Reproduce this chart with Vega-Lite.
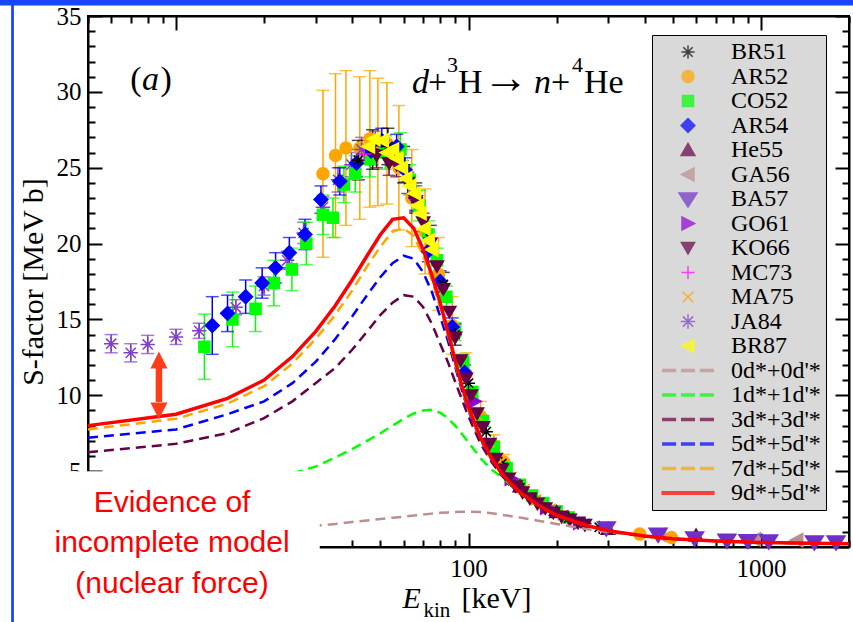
{
  "$schema": "https://vega.github.io/schema/vega-lite/v6.json",
  "width": 761,
  "height": 531,
  "autosize": {"type": "none"},
  "padding": {"left": 88, "top": 16, "right": 4, "bottom": 75},
  "background": "white",
  "config": {
    "view": {"stroke": "black", "strokeWidth": 2},
    "axis": {"grid": false, "domainColor": "black", "domainWidth": 2, "tickColor": "black", "tickWidth": 2, "labelFont": "Liberation Serif", "labelFontSize": 25, "labelColor": "black", "titleFont": "Liberation Serif", "titleFontSize": 30, "titleFontWeight": "normal", "titleColor": "black"}
  },
  "datasets": {
    "pts": [
      {"s":"AR52","E":31.8,"S":24.6,"lo":19.1,"hi":30.1},
      {"s":"AR52","E":35.1,"S":25.8,"lo":20.4,"hi":31.2},
      {"s":"AR52","E":38.1,"S":26.3,"lo":21.2,"hi":31.4},
      {"s":"AR52","E":42.5,"S":26.3,"lo":21.6,"hi":31.0},
      {"s":"AR52","E":46.0,"S":26.9,"lo":22.4,"hi":31.4},
      {"s":"AR52","E":49.0,"S":26.7,"lo":22.5,"hi":30.9},
      {"s":"AR52","E":52.6,"S":26.6,"lo":22.6,"hi":30.6},
      {"s":"AR52","E":57.8,"S":25.0,"lo":20.9,"hi":29.1},
      {"s":"AR52","E":64,"S":23.0,"lo":19.8,"hi":26.2},
      {"s":"AR52","E":71,"S":20.8,"lo":18.0,"hi":23.6},
      {"s":"AR52","E":79,"S":18.0,"lo":15.6,"hi":20.4},
      {"s":"AR52","E":88,"S":14.6,"lo":12.7,"hi":16.5},
      {"s":"AR52","E":98,"S":11.4,"lo":10.0,"hi":12.8},
      {"s":"AR52","E":110,"S":8.6,"lo":7.6,"hi":9.6},
      {"s":"AR52","E":122,"S":6.7,"lo":6.0,"hi":7.4},
      {"s":"AR52","E":132,"S":5.6,"lo":5.1,"hi":6.1},
      {"s":"AR52","E":385,"S":0.85,"lo":null,"hi":null},
      {"s":"AR52","E":494,"S":0.62,"lo":null,"hi":null},
      {"s":"JA84","E":6.0,"S":13.4,"lo":12.8,"hi":14.0},
      {"s":"JA84","E":7.0,"S":12.8,"lo":12.2,"hi":13.4},
      {"s":"JA84","E":8.0,"S":13.35,"lo":12.75,"hi":13.95},
      {"s":"JA84","E":10.0,"S":13.85,"lo":13.35,"hi":14.35},
      {"s":"JA84","E":12.0,"S":14.25,"lo":13.75,"hi":14.75},
      {"s":"JA84","E":16.0,"S":15.8,"lo":15.3,"hi":16.3},
      {"s":"JA84","E":20.0,"S":17.2,"lo":16.6,"hi":17.8},
      {"s":"JA84","E":24.0,"S":18.9,"lo":18.3,"hi":19.5},
      {"s":"JA84","E":27.3,"S":20.7,"lo":20.0,"hi":21.4},
      {"s":"JA84","E":31.8,"S":22.4,"lo":21.7,"hi":23.1},
      {"s":"JA84","E":35.8,"S":24.2,"lo":23.4,"hi":25.0},
      {"s":"JA84","E":39.8,"S":25.2,"lo":24.4,"hi":26.0},
      {"s":"JA84","E":43.1,"S":26.2,"lo":25.4,"hi":27.0},
      {"s":"JA84","E":48,"S":26.6,"lo":25.8,"hi":27.4},
      {"s":"CO52","E":12.5,"S":13.2,"lo":11.05,"hi":15.35},
      {"s":"CO52","E":15.6,"S":15.0,"lo":13.2,"hi":16.8},
      {"s":"CO52","E":18.7,"S":15.7,"lo":14.2,"hi":17.2},
      {"s":"CO52","E":21.6,"S":17.4,"lo":15.9,"hi":18.9},
      {"s":"CO52","E":24.9,"S":18.3,"lo":16.9,"hi":19.7},
      {"s":"CO52","E":27.9,"S":20.0,"lo":18.6,"hi":21.4},
      {"s":"CO52","E":31.8,"S":21.9,"lo":20.6,"hi":23.2},
      {"s":"CO52","E":34.4,"S":21.7,"lo":20.4,"hi":23.0},
      {"s":"CO52","E":37.5,"S":23.9,"lo":22.7,"hi":25.1},
      {"s":"CO52","E":41,"S":24.6,"lo":23.4,"hi":25.8},
      {"s":"CO52","E":46.0,"S":25.6,"lo":24.4,"hi":26.8},
      {"s":"CO52","E":52,"S":26.0,"lo":24.9,"hi":27.1},
      {"s":"CO52","E":58.5,"S":26.2,"lo":25.1,"hi":27.3},
      {"s":"CO52","E":63,"S":24.2,"lo":23.2,"hi":25.2},
      {"s":"CO52","E":68,"S":22.5,"lo":21.5,"hi":23.5},
      {"s":"CO52","E":73,"S":20.6,"lo":19.7,"hi":21.5},
      {"s":"CO52","E":78,"S":18.9,"lo":18.1,"hi":19.7},
      {"s":"CO52","E":84,"S":16.5,"lo":15.8,"hi":17.2},
      {"s":"CO52","E":90,"S":14.2,"lo":13.6,"hi":14.8},
      {"s":"CO52","E":96,"S":12.2,"lo":11.7,"hi":12.7},
      {"s":"CO52","E":103,"S":10.2,"lo":9.8,"hi":10.6},
      {"s":"CO52","E":112,"S":8.3,"lo":7.95,"hi":8.65},
      {"s":"CO52","E":122,"S":6.6,"lo":6.3,"hi":6.9},
      {"s":"CO52","E":135,"S":5.2,"lo":null,"hi":null},
      {"s":"CO52","E":150,"S":4.1,"lo":null,"hi":null},
      {"s":"CO52","E":165,"S":3.4,"lo":null,"hi":null},
      {"s":"CO52","E":180,"S":2.9,"lo":null,"hi":null},
      {"s":"CO52","E":200,"S":2.35,"lo":null,"hi":null},
      {"s":"CO52","E":220,"S":1.95,"lo":null,"hi":null},
      {"s":"AR54","E":13.3,"S":14.6,"lo":12.7,"hi":16.5},
      {"s":"AR54","E":15.0,"S":15.4,"lo":14.2,"hi":16.6},
      {"s":"AR54","E":17.3,"S":16.5,"lo":15.4,"hi":17.6},
      {"s":"AR54","E":19.7,"S":17.4,"lo":16.4,"hi":18.4},
      {"s":"AR54","E":21.9,"S":18.4,"lo":17.4,"hi":19.4},
      {"s":"AR54","E":24.4,"S":19.4,"lo":18.4,"hi":20.4},
      {"s":"AR54","E":27.6,"S":20.6,"lo":19.6,"hi":21.6},
      {"s":"AR54","E":31.3,"S":22.9,"lo":22.0,"hi":23.8},
      {"s":"AR54","E":36.3,"S":24.1,"lo":23.2,"hi":25.0},
      {"s":"AR54","E":41.4,"S":25.3,"lo":24.4,"hi":26.2},
      {"s":"AR54","E":46.4,"S":26.1,"lo":25.2,"hi":27.0},
      {"s":"AR54","E":50.5,"S":26.8,"lo":26.0,"hi":27.6},
      {"s":"AR54","E":56.8,"S":26.4,"lo":25.6,"hi":27.2},
      {"s":"AR54","E":60.7,"S":24.85,"lo":24.05,"hi":25.65},
      {"s":"AR54","E":66,"S":23.0,"lo":22.2,"hi":23.8},
      {"s":"AR54","E":72.8,"S":19.5,"lo":18.8,"hi":20.2},
      {"s":"AR54","E":80,"S":17.5,"lo":16.8,"hi":18.2},
      {"s":"AR54","E":88,"S":14.5,"lo":13.9,"hi":15.1},
      {"s":"AR54","E":97,"S":11.5,"lo":11.0,"hi":12.0},
      {"s":"BR51","E":42,"S":25.5,"lo":24.2,"hi":26.8},
      {"s":"BR51","E":47,"S":26.2,"lo":24.9,"hi":27.5},
      {"s":"BR51","E":53,"S":26.4,"lo":25.2,"hi":27.6},
      {"s":"BR51","E":60,"S":25.2,"lo":24.0,"hi":26.4},
      {"s":"BR51","E":66,"S":23.0,"lo":22.0,"hi":24.0},
      {"s":"BR51","E":74,"S":20.3,"lo":19.4,"hi":21.2},
      {"s":"BR51","E":82,"S":17.3,"lo":16.5,"hi":18.1},
      {"s":"BR51","E":90,"S":14.0,"lo":13.3,"hi":14.7},
      {"s":"BR51","E":100,"S":10.8,"lo":null,"hi":null},
      {"s":"BR51","E":115,"S":7.6,"lo":null,"hi":null},
      {"s":"BR51","E":130,"S":5.5,"lo":null,"hi":null},
      {"s":"BR51","E":150,"S":3.9,"lo":null,"hi":null},
      {"s":"BR51","E":170,"S":3.1,"lo":null,"hi":null},
      {"s":"BR51","E":195,"S":2.35,"lo":null,"hi":null},
      {"s":"BR51","E":220,"S":1.9,"lo":null,"hi":null},
      {"s":"BR51","E":250,"S":1.55,"lo":null,"hi":null},
      {"s":"BR51","E":280,"S":1.3,"lo":null,"hi":null},
      {"s":"MC73","E":44,"S":25.9,"lo":null,"hi":null},
      {"s":"MC73","E":56,"S":25.5,"lo":null,"hi":null},
      {"s":"MC73","E":66,"S":22.9,"lo":null,"hi":null},
      {"s":"MA75","E":108,"S":8.6,"lo":null,"hi":null},
      {"s":"MA75","E":118,"S":6.9,"lo":null,"hi":null},
      {"s":"MA75","E":128,"S":5.6,"lo":null,"hi":null},
      {"s":"MA75","E":140,"S":4.6,"lo":null,"hi":null},
      {"s":"MA75","E":155,"S":3.8,"lo":null,"hi":null},
      {"s":"MA75","E":170,"S":3.1,"lo":null,"hi":null},
      {"s":"MA75","E":190,"S":2.5,"lo":null,"hi":null},
      {"s":"MA75","E":210,"S":2.1,"lo":null,"hi":null},
      {"s":"He55","E":150,"S":4.0,"lo":null,"hi":null},
      {"s":"He55","E":200,"S":2.3,"lo":null,"hi":null},
      {"s":"He55","E":300,"S":1.2,"lo":null,"hi":null},
      {"s":"He55","E":600,"S":0.75,"lo":null,"hi":null},
      {"s":"GA56","E":450,"S":0.8,"lo":null,"hi":null},
      {"s":"GA56","E":949,"S":0.5,"lo":null,"hi":null},
      {"s":"GA56","E":1325,"S":0.45,"lo":null,"hi":null},
      {"s":"GO61","E":105,"S":9.6,"lo":null,"hi":null},
      {"s":"GO61","E":140,"S":4.5,"lo":null,"hi":null},
      {"s":"GO61","E":185,"S":2.6,"lo":null,"hi":null},
      {"s":"GO61","E":240,"S":1.6,"lo":null,"hi":null},
      {"s":"BA57","E":296,"S":1.25,"lo":null,"hi":null},
      {"s":"BA57","E":445,"S":0.84,"lo":null,"hi":null},
      {"s":"BA57","E":593,"S":0.6,"lo":null,"hi":null},
      {"s":"BA57","E":765,"S":0.45,"lo":null,"hi":null},
      {"s":"BA57","E":902,"S":0.42,"lo":null,"hi":null},
      {"s":"BA57","E":1063,"S":0.4,"lo":null,"hi":null},
      {"s":"BA57","E":1523,"S":0.33,"lo":null,"hi":null},
      {"s":"BA57","E":1806,"S":0.33,"lo":null,"hi":null},
      {"s":"KO66","E":48.5,"S":25.8,"lo":25.0,"hi":26.6},
      {"s":"KO66","E":53.5,"S":25.3,"lo":24.5,"hi":26.1},
      {"s":"KO66","E":56.8,"S":25.2,"lo":24.4,"hi":26.0},
      {"s":"KO66","E":62,"S":24.0,"lo":23.3,"hi":24.7},
      {"s":"KO66","E":66,"S":22.8,"lo":22.1,"hi":23.5},
      {"s":"KO66","E":70,"S":21.4,"lo":20.8,"hi":22.0},
      {"s":"KO66","E":74,"S":20.0,"lo":null,"hi":null},
      {"s":"KO66","E":78,"S":18.5,"lo":null,"hi":null},
      {"s":"KO66","E":82,"S":17.0,"lo":null,"hi":null},
      {"s":"KO66","E":86,"S":15.5,"lo":null,"hi":null},
      {"s":"KO66","E":90,"S":13.8,"lo":null,"hi":null},
      {"s":"KO66","E":94,"S":12.3,"lo":null,"hi":null},
      {"s":"KO66","E":98,"S":11.1,"lo":null,"hi":null},
      {"s":"KO66","E":102,"S":10.0,"lo":null,"hi":null},
      {"s":"KO66","E":107,"S":8.8,"lo":null,"hi":null},
      {"s":"KO66","E":112,"S":7.9,"lo":null,"hi":null},
      {"s":"KO66","E":118,"S":6.8,"lo":null,"hi":null},
      {"s":"KO66","E":124,"S":5.8,"lo":null,"hi":null},
      {"s":"KO66","E":130,"S":5.1,"lo":null,"hi":null},
      {"s":"KO66","E":137,"S":4.5,"lo":null,"hi":null},
      {"s":"KO66","E":145,"S":4.0,"lo":null,"hi":null},
      {"s":"KO66","E":153,"S":3.6,"lo":null,"hi":null},
      {"s":"KO66","E":162,"S":3.2,"lo":null,"hi":null},
      {"s":"KO66","E":172,"S":2.85,"lo":null,"hi":null},
      {"s":"KO66","E":183,"S":2.55,"lo":null,"hi":null},
      {"s":"KO66","E":195,"S":2.25,"lo":null,"hi":null},
      {"s":"KO66","E":208,"S":2.0,"lo":null,"hi":null},
      {"s":"KO66","E":222,"S":1.8,"lo":null,"hi":null},
      {"s":"KO66","E":237,"S":1.6,"lo":null,"hi":null},
      {"s":"KO66","E":250,"S":1.45,"lo":null,"hi":null},
      {"s":"BR87","E":45.5,"S":26.4,"lo":null,"hi":null},
      {"s":"BR87","E":47.5,"S":26.9,"lo":null,"hi":null},
      {"s":"BR87","E":50.7,"S":26.8,"lo":null,"hi":null},
      {"s":"BR87","E":52.5,"S":26.0,"lo":null,"hi":null},
      {"s":"BR87","E":55,"S":26.2,"lo":null,"hi":null},
      {"s":"BR87","E":57,"S":25.6,"lo":null,"hi":null},
      {"s":"BR87","E":59,"S":25.0,"lo":null,"hi":null},
      {"s":"BR87","E":61,"S":24.3,"lo":null,"hi":null},
      {"s":"BR87","E":63,"S":23.8,"lo":null,"hi":null},
      {"s":"BR87","E":65.5,"S":23.3,"lo":null,"hi":null},
      {"s":"BR87","E":67,"S":22.5,"lo":null,"hi":null},
      {"s":"BR87","E":68.3,"S":22.0,"lo":null,"hi":null},
      {"s":"BR87","E":70.5,"S":21.0,"lo":null,"hi":null},
      {"s":"BR87","E":72.8,"S":20.2,"lo":null,"hi":null},
      {"s":"BR87","E":75,"S":19.6,"lo":null,"hi":null}
    ],
    "lines": [
      {"s":"0d*+0d'*","E":5,"S":0.7},{"s":"0d*+0d'*","E":10,"S":0.9},{"s":"0d*+0d'*","E":15,"S":1.05},{"s":"0d*+0d'*","E":20,"S":1.15},{"s":"0d*+0d'*","E":25,"S":1.3},{"s":"0d*+0d'*","E":30,"S":1.4},{"s":"0d*+0d'*","E":35,"S":1.52},{"s":"0d*+0d'*","E":40,"S":1.65},{"s":"0d*+0d'*","E":45,"S":1.75},{"s":"0d*+0d'*","E":50,"S":1.85},{"s":"0d*+0d'*","E":55,"S":1.93},{"s":"0d*+0d'*","E":60,"S":2.0},{"s":"0d*+0d'*","E":65,"S":2.07},{"s":"0d*+0d'*","E":70,"S":2.15},{"s":"0d*+0d'*","E":75,"S":2.2},{"s":"0d*+0d'*","E":80,"S":2.25},{"s":"0d*+0d'*","E":85,"S":2.28},{"s":"0d*+0d'*","E":90,"S":2.3},{"s":"0d*+0d'*","E":95,"S":2.32},{"s":"0d*+0d'*","E":100,"S":2.33},{"s":"0d*+0d'*","E":110,"S":2.3},{"s":"0d*+0d'*","E":120,"S":2.22},{"s":"0d*+0d'*","E":130,"S":2.12},{"s":"0d*+0d'*","E":140,"S":2.03},{"s":"0d*+0d'*","E":150,"S":1.95},{"s":"0d*+0d'*","E":175,"S":1.72},{"s":"0d*+0d'*","E":200,"S":1.52},{"s":"0d*+0d'*","E":250,"S":1.2},{"s":"0d*+0d'*","E":300,"S":0.98},{"s":"0d*+0d'*","E":400,"S":0.7},{"s":"0d*+0d'*","E":500,"S":0.54},{"s":"0d*+0d'*","E":700,"S":0.4},{"s":"0d*+0d'*","E":1000,"S":0.3},{"s":"0d*+0d'*","E":1500,"S":0.24},{"s":"0d*+0d'*","E":2000,"S":0.21},
      {"s":"1d*+1d'*","E":5,"S":2.6},{"s":"1d*+1d'*","E":10,"S":3.3},{"s":"1d*+1d'*","E":15,"S":3.8},{"s":"1d*+1d'*","E":20,"S":4.35},{"s":"1d*+1d'*","E":25,"S":4.85},{"s":"1d*+1d'*","E":30,"S":5.3},{"s":"1d*+1d'*","E":35,"S":5.9},{"s":"1d*+1d'*","E":40,"S":6.45},{"s":"1d*+1d'*","E":45,"S":7.0},{"s":"1d*+1d'*","E":50,"S":7.5},{"s":"1d*+1d'*","E":55,"S":8.0},{"s":"1d*+1d'*","E":60,"S":8.45},{"s":"1d*+1d'*","E":65,"S":8.8},{"s":"1d*+1d'*","E":70,"S":9.0},{"s":"1d*+1d'*","E":75,"S":9.05},{"s":"1d*+1d'*","E":80,"S":8.85},{"s":"1d*+1d'*","E":85,"S":8.5},{"s":"1d*+1d'*","E":90,"S":8.0},{"s":"1d*+1d'*","E":95,"S":7.45},{"s":"1d*+1d'*","E":100,"S":6.9},{"s":"1d*+1d'*","E":110,"S":5.85},{"s":"1d*+1d'*","E":120,"S":5.1},{"s":"1d*+1d'*","E":130,"S":4.6},{"s":"1d*+1d'*","E":140,"S":4.05},{"s":"1d*+1d'*","E":150,"S":3.55},{"s":"1d*+1d'*","E":175,"S":2.66},{"s":"1d*+1d'*","E":200,"S":2.07},{"s":"1d*+1d'*","E":250,"S":1.43},{"s":"1d*+1d'*","E":300,"S":1.06},{"s":"1d*+1d'*","E":400,"S":0.71},{"s":"1d*+1d'*","E":500,"S":0.54},{"s":"1d*+1d'*","E":700,"S":0.4},{"s":"1d*+1d'*","E":1000,"S":0.3},{"s":"1d*+1d'*","E":1500,"S":0.24},{"s":"1d*+1d'*","E":2000,"S":0.21},
      {"s":"3d*+3d'*","E":5,"S":6.25},{"s":"3d*+3d'*","E":10,"S":6.8},{"s":"3d*+3d'*","E":15,"S":7.5},{"s":"3d*+3d'*","E":20,"S":8.5},{"s":"3d*+3d'*","E":25,"S":9.6},{"s":"3d*+3d'*","E":30,"S":10.8},{"s":"3d*+3d'*","E":35,"S":11.8},{"s":"3d*+3d'*","E":40,"S":13.0},{"s":"3d*+3d'*","E":45,"S":14.2},{"s":"3d*+3d'*","E":50,"S":15.3},{"s":"3d*+3d'*","E":55,"S":16.1},{"s":"3d*+3d'*","E":60,"S":16.6},{"s":"3d*+3d'*","E":65,"S":16.5},{"s":"3d*+3d'*","E":70,"S":15.8},{"s":"3d*+3d'*","E":75,"S":14.7},{"s":"3d*+3d'*","E":80,"S":13.4},{"s":"3d*+3d'*","E":85,"S":12.2},{"s":"3d*+3d'*","E":90,"S":10.9},{"s":"3d*+3d'*","E":95,"S":9.7},{"s":"3d*+3d'*","E":100,"S":8.6},{"s":"3d*+3d'*","E":110,"S":6.8},{"s":"3d*+3d'*","E":120,"S":5.6},{"s":"3d*+3d'*","E":130,"S":4.7},{"s":"3d*+3d'*","E":140,"S":4.05},{"s":"3d*+3d'*","E":150,"S":3.53},{"s":"3d*+3d'*","E":175,"S":2.66},{"s":"3d*+3d'*","E":200,"S":2.07},{"s":"3d*+3d'*","E":250,"S":1.43},{"s":"3d*+3d'*","E":300,"S":1.06},{"s":"3d*+3d'*","E":400,"S":0.71},{"s":"3d*+3d'*","E":500,"S":0.54},{"s":"3d*+3d'*","E":700,"S":0.4},{"s":"3d*+3d'*","E":1000,"S":0.3},{"s":"3d*+3d'*","E":1500,"S":0.24},{"s":"3d*+3d'*","E":2000,"S":0.21},
      {"s":"5d*+5d'*","E":5,"S":7.2},{"s":"5d*+5d'*","E":10,"S":7.75},{"s":"5d*+5d'*","E":15,"S":8.75},{"s":"5d*+5d'*","E":20,"S":9.6},{"s":"5d*+5d'*","E":25,"S":10.8},{"s":"5d*+5d'*","E":30,"S":12.2},{"s":"5d*+5d'*","E":35,"S":13.7},{"s":"5d*+5d'*","E":40,"S":15.2},{"s":"5d*+5d'*","E":45,"S":16.6},{"s":"5d*+5d'*","E":50,"S":17.8},{"s":"5d*+5d'*","E":55,"S":18.7},{"s":"5d*+5d'*","E":60,"S":19.2},{"s":"5d*+5d'*","E":65,"S":19.0},{"s":"5d*+5d'*","E":70,"S":18.1},{"s":"5d*+5d'*","E":75,"S":16.8},{"s":"5d*+5d'*","E":80,"S":15.2},{"s":"5d*+5d'*","E":85,"S":13.6},{"s":"5d*+5d'*","E":90,"S":11.9},{"s":"5d*+5d'*","E":95,"S":10.3},{"s":"5d*+5d'*","E":100,"S":8.95},{"s":"5d*+5d'*","E":110,"S":7.05},{"s":"5d*+5d'*","E":120,"S":5.75},{"s":"5d*+5d'*","E":130,"S":4.78},{"s":"5d*+5d'*","E":140,"S":4.1},{"s":"5d*+5d'*","E":150,"S":3.56},{"s":"5d*+5d'*","E":175,"S":2.68},{"s":"5d*+5d'*","E":200,"S":2.08},{"s":"5d*+5d'*","E":250,"S":1.44},{"s":"5d*+5d'*","E":300,"S":1.07},{"s":"5d*+5d'*","E":400,"S":0.71},{"s":"5d*+5d'*","E":500,"S":0.54},{"s":"5d*+5d'*","E":700,"S":0.4},{"s":"5d*+5d'*","E":1000,"S":0.3},{"s":"5d*+5d'*","E":1500,"S":0.24},{"s":"5d*+5d'*","E":2000,"S":0.21},
      {"s":"7d*+5d'*","E":5,"S":7.75},{"s":"7d*+5d'*","E":10,"S":8.45},{"s":"7d*+5d'*","E":15,"S":9.45},{"s":"7d*+5d'*","E":20,"S":10.6},{"s":"7d*+5d'*","E":25,"S":12.1},{"s":"7d*+5d'*","E":30,"S":13.7},{"s":"7d*+5d'*","E":35,"S":15.3},{"s":"7d*+5d'*","E":40,"S":16.9},{"s":"7d*+5d'*","E":45,"S":18.5},{"s":"7d*+5d'*","E":50,"S":19.8},{"s":"7d*+5d'*","E":55,"S":20.8},{"s":"7d*+5d'*","E":60,"S":21.0},{"s":"7d*+5d'*","E":65,"S":20.5},{"s":"7d*+5d'*","E":70,"S":19.2},{"s":"7d*+5d'*","E":75,"S":17.6},{"s":"7d*+5d'*","E":80,"S":15.8},{"s":"7d*+5d'*","E":85,"S":14.0},{"s":"7d*+5d'*","E":90,"S":12.1},{"s":"7d*+5d'*","E":95,"S":10.45},{"s":"7d*+5d'*","E":100,"S":9.05},{"s":"7d*+5d'*","E":110,"S":7.1},{"s":"7d*+5d'*","E":120,"S":5.8},{"s":"7d*+5d'*","E":130,"S":4.8},{"s":"7d*+5d'*","E":140,"S":4.12},{"s":"7d*+5d'*","E":150,"S":3.58},{"s":"7d*+5d'*","E":175,"S":2.69},{"s":"7d*+5d'*","E":200,"S":2.09},{"s":"7d*+5d'*","E":250,"S":1.44},{"s":"7d*+5d'*","E":300,"S":1.07},{"s":"7d*+5d'*","E":400,"S":0.71},{"s":"7d*+5d'*","E":500,"S":0.55},{"s":"7d*+5d'*","E":700,"S":0.4},{"s":"7d*+5d'*","E":1000,"S":0.3},{"s":"7d*+5d'*","E":1500,"S":0.24},{"s":"7d*+5d'*","E":2000,"S":0.21},
      {"s":"9d*+5d'*","E":5,"S":8.0},{"s":"9d*+5d'*","E":10,"S":8.75},{"s":"9d*+5d'*","E":15,"S":9.8},{"s":"9d*+5d'*","E":20,"S":11.0},{"s":"9d*+5d'*","E":25,"S":12.55},{"s":"9d*+5d'*","E":30,"S":14.2},{"s":"9d*+5d'*","E":35,"S":15.9},{"s":"9d*+5d'*","E":40,"S":17.6},{"s":"9d*+5d'*","E":45,"S":19.2},{"s":"9d*+5d'*","E":50,"S":20.6},{"s":"9d*+5d'*","E":55,"S":21.6},{"s":"9d*+5d'*","E":60,"S":21.7},{"s":"9d*+5d'*","E":65,"S":21.0},{"s":"9d*+5d'*","E":70,"S":19.6},{"s":"9d*+5d'*","E":75,"S":17.9},{"s":"9d*+5d'*","E":80,"S":16.1},{"s":"9d*+5d'*","E":85,"S":14.2},{"s":"9d*+5d'*","E":90,"S":12.3},{"s":"9d*+5d'*","E":95,"S":10.6},{"s":"9d*+5d'*","E":100,"S":9.2},{"s":"9d*+5d'*","E":110,"S":7.2},{"s":"9d*+5d'*","E":120,"S":5.85},{"s":"9d*+5d'*","E":130,"S":4.85},{"s":"9d*+5d'*","E":140,"S":4.15},{"s":"9d*+5d'*","E":150,"S":3.6},{"s":"9d*+5d'*","E":175,"S":2.7},{"s":"9d*+5d'*","E":200,"S":2.1},{"s":"9d*+5d'*","E":250,"S":1.45},{"s":"9d*+5d'*","E":300,"S":1.08},{"s":"9d*+5d'*","E":400,"S":0.72},{"s":"9d*+5d'*","E":500,"S":0.55},{"s":"9d*+5d'*","E":700,"S":0.4},{"s":"9d*+5d'*","E":1000,"S":0.3},{"s":"9d*+5d'*","E":1500,"S":0.24},{"s":"9d*+5d'*","E":2000,"S":0.21}
    ]
  },
  "layer": [
    {
      "data": {"name": "pts"},
      "transform": [{"filter": "datum.lo != null"}],
      "mark": {"type": "rule", "strokeWidth": 1.5},
      "encoding": {
        "x": {"field": "E", "type": "quantitative", "scale": {"type": "log", "domain": [5, 2000], "nice": false},
          "axis": {"orient": "bottom", "title": null, "values": [5,6,7,8,9,10,20,30,40,50,60,70,80,90,100,200,300,400,500,600,700,800,900,1000,2000], "format": "d",
            "labelExpr": "indexof([100,1000], datum.value) >= 0 ? datum.label : ''",
            "tickSize": {"condition": {"test": "indexof([10,100,1000], datum.value) >= 0", "value": -14}, "value": -7},
            "labelPadding": 23, "labelFlush": false, "labelOverlap": false}},
        "y": {"field": "lo", "type": "quantitative", "scale": {"domain": [0, 35], "nice": false, "zero": false},
          "axis": {"orient": "left", "title": "S-factor [MeV b]", "titlePadding": 8,
            "values": [0,1,2,3,4,5,6,7,8,9,10,11,12,13,14,15,16,17,18,19,20,21,22,23,24,25,26,27,28,29,30,31,32,33,34,35],
            "labelExpr": "datum.value % 5 == 0 && datum.value > 0 ? datum.label : ''",
            "tickSize": {"condition": {"test": "datum.value % 5 == 0", "value": -14}, "value": -7},
            "labelPadding": 21, "labelFlush": false, "labelOverlap": false}},
        "y2": {"field": "hi"},
        "color": {"field": "s", "type": "nominal",
          "scale": {"domain": ["BR51","AR52","CO52","AR54","He55","GA56","BA57","GO61","KO66","MC73","MA75","JA84","BR87","0d*+0d'*","1d*+1d'*","3d*+3d'*","5d*+5d'*","7d*+5d'*","9d*+5d'*"],
                    "range": ["#000000","#ffa500","#00ff00","#0000ff","#650045","#bc8f8f","#7030c8","#9400d3","#650045","#ff00ff","#ffa500","#8040c8","#ffff00","#bc8f8f","#00ff00","#650045","#0000ff","#ffa500","#ff0000"]}}
      }
    },
    {
      "data": {"name": "pts"},
      "transform": [{"filter": "datum.lo != null"}],
      "mark": {"type": "tick", "orient": "horizontal", "size": 13, "thickness": 1.5},
      "encoding": {
        "x": {"field": "E", "type": "quantitative", "scale": {"type": "log", "domain": [5, 2000], "nice": false}, "axis": null},
        "y": {"field": "lo", "type": "quantitative", "scale": {"domain": [0, 35], "nice": false, "zero": false}, "axis": null},
        "color": {"field": "s", "type": "nominal"}
      }
    },
    {
      "data": {"name": "pts"},
      "transform": [{"filter": "datum.lo != null"}],
      "mark": {"type": "tick", "orient": "horizontal", "size": 13, "thickness": 1.5},
      "encoding": {
        "x": {"field": "E", "type": "quantitative", "scale": {"type": "log", "domain": [5, 2000], "nice": false}, "axis": null},
        "y": {"field": "hi", "type": "quantitative", "scale": {"domain": [0, 35], "nice": false, "zero": false}, "axis": null},
        "color": {"field": "s", "type": "nominal"}
      }
    },
    {
      "data": {"name": "pts"},
      "mark": {"type": "point", "filled": true, "size": 144, "strokeWidth": 1.5, "opacity": 1},
      "encoding": {
        "x": {"field": "E", "type": "quantitative", "scale": {"type": "log", "domain": [5, 2000], "nice": false}, "axis": null},
        "y": {"field": "S", "type": "quantitative", "scale": {"domain": [0, 35], "nice": false, "zero": false}, "axis": null},
        "color": {"field": "s", "type": "nominal",
          "legend": {"title": null, "orient": "none", "legendX": 564, "legendY": 19, "padding": 5, "rowPadding": 0.5,
            "symbolOffset": 19, "labelOffset": 31, "symbolSize": 144, "labelFont": "Liberation Serif", "labelFontSize": 24,
            "labelColor": "black", "fillColor": "#d9d9d9", "strokeColor": "black", "symbolLimit": 40, "labelLimit": 300}},
        "stroke": {"field": "s", "type": "nominal", "legend": null,
          "scale": {"domain": ["BR51","AR52","CO52","AR54","He55","GA56","BA57","GO61","KO66","MC73","MA75","JA84","BR87","0d*+0d'*","1d*+1d'*","3d*+3d'*","5d*+5d'*","7d*+5d'*","9d*+5d'*"],
                    "range": ["#000000","#ffa500","#00ff00","#0000ff","#650045","#bc8f8f","#7030c8","#9400d3","#650045","#ff00ff","#ffa500","#8040c8","#ffff00","#bc8f8f","#00ff00","#650045","#0000ff","#ffa500","#ff0000"]}},
        "shape": {"field": "s", "type": "nominal", "legend": null,
          "scale": {"domain": ["BR51","AR52","CO52","AR54","He55","GA56","BA57","GO61","KO66","MC73","MA75","JA84","BR87","0d*+0d'*","1d*+1d'*","3d*+3d'*","5d*+5d'*","7d*+5d'*","9d*+5d'*"],
                    "range": [
                      "M-1.1,0L1.1,0M0,-1.1L0,1.1M-0.78,-0.78L0.78,0.78M-0.78,0.78L0.78,-0.78",
                      "M-1,0A1,1,0,1,1,1,0A1,1,0,1,1,-1,0Z",
                      "M-0.92,-0.92L0.92,-0.92L0.92,0.92L-0.92,0.92Z",
                      "M0,-1.15L1.15,0L0,1.15L-1.15,0Z",
                      "M0,-1.1L1.15,0.9L-1.15,0.9Z",
                      "M-1.1,0L1,-1.1L1,1.1Z",
                      "M-1.5,-1L1.5,-1L0,1.35Z",
                      "M1.1,0L-1,-1.1L-1,1.1Z",
                      "M-1.1,-0.9L1.1,-0.9L0,1Z",
                      "M-1.1,0L1.1,0M0,-1.1L0,1.1",
                      "M-0.9,-0.9L0.9,0.9M-0.9,0.9L0.9,-0.9",
                      "M-1.2,0L1.2,0M0,-1.2L0,1.2M-0.85,-0.85L0.85,0.85M-0.85,0.85L0.85,-0.85",
                      "M-1.1,0L1,-1.1L1,1.1Z",
                      "M-4.2,-0.15H-2.1V0.15H-4.2ZM-1.05,-0.15H1.05V0.15H-1.05ZM2.1,-0.15H4.2V0.15H2.1Z",
                      "M-4.2,-0.15H-2.1V0.15H-4.2ZM-1.05,-0.15H1.05V0.15H-1.05ZM2.1,-0.15H4.2V0.15H2.1Z",
                      "M-4.2,-0.15H-2.1V0.15H-4.2ZM-1.05,-0.15H1.05V0.15H-1.05ZM2.1,-0.15H4.2V0.15H2.1Z",
                      "M-4.2,-0.15H-2.1V0.15H-4.2ZM-1.05,-0.15H1.05V0.15H-1.05ZM2.1,-0.15H4.2V0.15H2.1Z",
                      "M-4.2,-0.15H-2.1V0.15H-4.2ZM-1.05,-0.15H1.05V0.15H-1.05ZM2.1,-0.15H4.2V0.15H2.1Z",
                      "M-4.3,-0.22H4.3V0.22H-4.3Z"
                    ]}}
      }
    },
    {
      "data": {"name": "lines"},
      "transform": [{"filter": "datum.s != \"9d*+5d'*\""}],
      "mark": {"type": "line", "strokeWidth": 2.5, "strokeDash": [10, 6]},
      "encoding": {
        "x": {"field": "E", "type": "quantitative", "scale": {"type": "log", "domain": [5, 2000], "nice": false}, "axis": null},
        "y": {"field": "S", "type": "quantitative", "scale": {"domain": [0, 35], "nice": false, "zero": false}, "axis": null},
        "color": {"field": "s", "type": "nominal"}
      }
    },
    {
      "data": {"name": "lines"},
      "transform": [{"filter": "datum.s == \"9d*+5d'*\""}],
      "mark": {"type": "line", "strokeWidth": 3.5},
      "encoding": {
        "x": {"field": "E", "type": "quantitative", "scale": {"type": "log", "domain": [5, 2000], "nice": false}, "axis": null},
        "y": {"field": "S", "type": "quantitative", "scale": {"domain": [0, 35], "nice": false, "zero": false}, "axis": null},
        "color": {"field": "s", "type": "nominal"}
      }
    },
    {
      "data": {"name": "lines"},
      "mark": {"type": "point", "opacity": 0},
      "encoding": {
        "x": {"field": "E", "type": "quantitative", "scale": {"type": "log", "domain": [5, 2000], "nice": false},
          "axis": {"orient": "top", "title": null, "labels": false, "values": [5,6,7,8,9,10,20,30,40,50,60,70,80,90,100,200,300,400,500,600,700,800,900,1000,2000],
            "tickSize": {"condition": {"test": "indexof([10,100,1000], datum.value) >= 0", "value": -14}, "value": -7}}},
        "y": {"field": "S", "type": "quantitative", "scale": {"domain": [0, 35], "nice": false, "zero": false},
          "axis": {"orient": "right", "title": null, "labels": false,
            "values": [0,1,2,3,4,5,6,7,8,9,10,11,12,13,14,15,16,17,18,19,20,21,22,23,24,25,26,27,28,29,30,31,32,33,34,35],
            "tickSize": {"condition": {"test": "datum.value % 5 == 0", "value": -14}, "value": -7}}}
      }
    },
    {
      "data": {"values": [{}]},
      "mark": {"type": "rect", "color": "#1846ff"},
      "encoding": {
        "x": {"datum": 1, "type": "quantitative", "scale": {"type": "log", "domain": [5, 2000], "nice": false}, "axis": null},
        "x2": {"datum": 5000},
        "y": {"datum": 38, "type": "quantitative", "scale": {"domain": [0, 35], "nice": false, "zero": false}, "axis": null},
        "y2": {"datum": 35.7}
      }
    },
    {
      "data": {"values": [{}]},
      "mark": {"type": "rect", "color": "#1846ff"},
      "encoding": {
        "x": {"datum": 2.73, "type": "quantitative", "scale": {"type": "log", "domain": [5, 2000], "nice": false}, "axis": null},
        "x2": {"datum": 2.79},
        "y": {"datum": 38, "type": "quantitative", "scale": {"domain": [0, 35], "nice": false, "zero": false}, "axis": null},
        "y2": {"datum": -6}
      }
    },
    {
      "data": {"values": [{}]},
      "mark": {"type": "rect", "color": "white"},
      "encoding": {
        "x": {"datum": 2.8, "type": "quantitative", "scale": {"type": "log", "domain": [5, 2000], "nice": false}, "axis": null},
        "x2": {"datum": 31.0},
        "y": {"datum": 5.0, "type": "quantitative", "scale": {"domain": [0, 35], "nice": false, "zero": false}, "axis": null},
        "y2": {"datum": -6}
      }
    },
    {
      "data": {"values": [{}]},
      "mark": {"type": "text", "text": ["Evidence of", "incomplete model", "(nuclear force)"], "font": "Liberation Sans", "fontSize": 30, "lineHeight": 40.5, "color": "#ff0000", "align": "center", "baseline": "alphabetic"},
      "encoding": {
        "x": {"datum": 9.69, "type": "quantitative", "scale": {"type": "log", "domain": [5, 2000], "nice": false}, "axis": null},
        "y": {"datum": 2.33, "type": "quantitative", "scale": {"domain": [0, 35], "nice": false, "zero": false}, "axis": null}
      }
    },
    {
      "data": {"values": [{}]},
      "mark": {"type": "rule", "color": "#ff3d1a", "strokeWidth": 6.5},
      "encoding": {
        "x": {"datum": 8.74, "type": "quantitative", "scale": {"type": "log", "domain": [5, 2000], "nice": false}, "axis": null},
        "y": {"datum": 11.8, "type": "quantitative", "scale": {"domain": [0, 35], "nice": false, "zero": false}, "axis": null},
        "y2": {"datum": 9.56}
      }
    },
    {
      "data": {"values": [{}]},
      "mark": {"type": "point", "filled": true, "color": "#ff3d1a", "opacity": 1, "size": 289, "shape": "M0,-1L1,1L-1,1Z"},
      "encoding": {
        "x": {"datum": 8.74, "type": "quantitative", "scale": {"type": "log", "domain": [5, 2000], "nice": false}, "axis": null},
        "y": {"datum": 12.33, "type": "quantitative", "scale": {"domain": [0, 35], "nice": false, "zero": false}, "axis": null}
      }
    },
    {
      "data": {"values": [{}]},
      "mark": {"type": "point", "filled": true, "color": "#ff3d1a", "opacity": 1, "size": 289, "shape": "M0,1L1,-1L-1,-1Z"},
      "encoding": {
        "x": {"datum": 8.74, "type": "quantitative", "scale": {"type": "log", "domain": [5, 2000], "nice": false}, "axis": null},
        "y": {"datum": 8.97, "type": "quantitative", "scale": {"domain": [0, 35], "nice": false, "zero": false}, "axis": null}
      }
    },
    {
      "data": {"values": [{}]},
      "mark": {"type": "text", "text": "(", "font": "Liberation Serif", "fontSize": 34, "color": "black", "align": "right", "baseline": "alphabetic", "dx": -9},
      "encoding": {
        "x": {"datum": 8.18, "type": "quantitative", "scale": {"type": "log", "domain": [5, 2000], "nice": false}, "axis": null},
        "y": {"datum": 30.13, "type": "quantitative", "scale": {"domain": [0, 35], "nice": false, "zero": false}, "axis": null}
      }
    },
    {
      "data": {"values": [{}]},
      "mark": {"type": "text", "text": "a", "font": "Liberation Serif", "fontStyle": "italic", "fontSize": 34, "color": "black", "align": "center", "baseline": "alphabetic"},
      "encoding": {
        "x": {"datum": 8.18, "type": "quantitative", "scale": {"type": "log", "domain": [5, 2000], "nice": false}, "axis": null},
        "y": {"datum": 30.13, "type": "quantitative", "scale": {"domain": [0, 35], "nice": false, "zero": false}, "axis": null}
      }
    },
    {
      "data": {"values": [{}]},
      "mark": {"type": "text", "text": ")", "font": "Liberation Serif", "fontSize": 34, "color": "black", "align": "left", "baseline": "alphabetic", "dx": 10},
      "encoding": {
        "x": {"datum": 8.18, "type": "quantitative", "scale": {"type": "log", "domain": [5, 2000], "nice": false}, "axis": null},
        "y": {"datum": 30.13, "type": "quantitative", "scale": {"domain": [0, 35], "nice": false, "zero": false}, "axis": null}
      }
    },
    {
      "data": {"values": [{}]},
      "mark": {"type": "text", "text": "d", "font": "Liberation Serif", "fontStyle": "italic", "fontSize": 34, "color": "black", "align": "left", "baseline": "alphabetic", "dx": 2},
      "encoding": {
        "x": {"datum": 63.03, "type": "quantitative", "scale": {"type": "log", "domain": [5, 2000], "nice": false}, "axis": null},
        "y": {"datum": 29.93, "type": "quantitative", "scale": {"domain": [0, 35], "nice": false, "zero": false}, "axis": null}
      }
    },
    {
      "data": {"values": [{}]},
      "mark": {"type": "text", "text": "+", "font": "Liberation Serif", "fontSize": 34, "color": "black", "align": "left", "baseline": "alphabetic", "dx": 18},
      "encoding": {
        "x": {"datum": 63.03, "type": "quantitative", "scale": {"type": "log", "domain": [5, 2000], "nice": false}, "axis": null},
        "y": {"datum": 29.93, "type": "quantitative", "scale": {"domain": [0, 35], "nice": false, "zero": false}, "axis": null}
      }
    },
    {
      "data": {"values": [{}]},
      "mark": {"type": "text", "text": "3", "font": "Liberation Serif", "fontSize": 22, "color": "black", "align": "left", "baseline": "alphabetic", "dx": 37, "dy": -21},
      "encoding": {
        "x": {"datum": 63.03, "type": "quantitative", "scale": {"type": "log", "domain": [5, 2000], "nice": false}, "axis": null},
        "y": {"datum": 29.93, "type": "quantitative", "scale": {"domain": [0, 35], "nice": false, "zero": false}, "axis": null}
      }
    },
    {
      "data": {"values": [{}]},
      "mark": {"type": "text", "text": "H", "font": "Liberation Serif", "fontSize": 34, "color": "black", "align": "left", "baseline": "alphabetic", "dx": 48},
      "encoding": {
        "x": {"datum": 63.03, "type": "quantitative", "scale": {"type": "log", "domain": [5, 2000], "nice": false}, "axis": null},
        "y": {"datum": 29.93, "type": "quantitative", "scale": {"domain": [0, 35], "nice": false, "zero": false}, "axis": null}
      }
    },
    {
      "data": {"values": [{}]},
      "mark": {"type": "text", "text": "→", "font": "Liberation Serif", "fontSize": 46, "color": "black", "align": "left", "baseline": "alphabetic", "dx": 73, "dy": 0},
      "encoding": {
        "x": {"datum": 63.03, "type": "quantitative", "scale": {"type": "log", "domain": [5, 2000], "nice": false}, "axis": null},
        "y": {"datum": 29.93, "type": "quantitative", "scale": {"domain": [0, 35], "nice": false, "zero": false}, "axis": null}
      }
    },
    {
      "data": {"values": [{}]},
      "mark": {"type": "text", "text": "n", "font": "Liberation Serif", "fontStyle": "italic", "fontSize": 34, "color": "black", "align": "left", "baseline": "alphabetic", "dx": 124},
      "encoding": {
        "x": {"datum": 63.03, "type": "quantitative", "scale": {"type": "log", "domain": [5, 2000], "nice": false}, "axis": null},
        "y": {"datum": 29.93, "type": "quantitative", "scale": {"domain": [0, 35], "nice": false, "zero": false}, "axis": null}
      }
    },
    {
      "data": {"values": [{}]},
      "mark": {"type": "text", "text": "+", "font": "Liberation Serif", "fontSize": 34, "color": "black", "align": "left", "baseline": "alphabetic", "dx": 141},
      "encoding": {
        "x": {"datum": 63.03, "type": "quantitative", "scale": {"type": "log", "domain": [5, 2000], "nice": false}, "axis": null},
        "y": {"datum": 29.93, "type": "quantitative", "scale": {"domain": [0, 35], "nice": false, "zero": false}, "axis": null}
      }
    },
    {
      "data": {"values": [{}]},
      "mark": {"type": "text", "text": "4", "font": "Liberation Serif", "fontSize": 22, "color": "black", "align": "left", "baseline": "alphabetic", "dx": 162, "dy": -21},
      "encoding": {
        "x": {"datum": 63.03, "type": "quantitative", "scale": {"type": "log", "domain": [5, 2000], "nice": false}, "axis": null},
        "y": {"datum": 29.93, "type": "quantitative", "scale": {"domain": [0, 35], "nice": false, "zero": false}, "axis": null}
      }
    },
    {
      "data": {"values": [{}]},
      "mark": {"type": "text", "text": "He", "font": "Liberation Serif", "fontSize": 34, "color": "black", "align": "left", "baseline": "alphabetic", "dx": 174},
      "encoding": {
        "x": {"datum": 63.03, "type": "quantitative", "scale": {"type": "log", "domain": [5, 2000], "nice": false}, "axis": null},
        "y": {"datum": 29.93, "type": "quantitative", "scale": {"domain": [0, 35], "nice": false, "zero": false}, "axis": null}
      }
    },
    {
      "data": {"values": [{}]},
      "mark": {"type": "text", "text": "E", "font": "Liberation Serif", "fontStyle": "italic", "fontSize": 30, "color": "black", "align": "left", "baseline": "alphabetic", "dx": -66},
      "encoding": {
        "x": {"datum": 100, "type": "quantitative", "scale": {"type": "log", "domain": [5, 2000], "nice": false}, "axis": null},
        "y": {"datum": -4.02, "type": "quantitative", "scale": {"domain": [0, 35], "nice": false, "zero": false}, "axis": null}
      }
    },
    {
      "data": {"values": [{}]},
      "mark": {"type": "text", "text": "kin", "font": "Liberation Serif", "fontSize": 21, "color": "black", "align": "left", "baseline": "alphabetic", "dx": -45},
      "encoding": {
        "x": {"datum": 100, "type": "quantitative", "scale": {"type": "log", "domain": [5, 2000], "nice": false}, "axis": null},
        "y": {"datum": -4.61, "type": "quantitative", "scale": {"domain": [0, 35], "nice": false, "zero": false}, "axis": null}
      }
    },
    {
      "data": {"values": [{}]},
      "mark": {"type": "text", "text": "[keV]", "font": "Liberation Serif", "fontSize": 30, "color": "black", "align": "left", "baseline": "alphabetic", "dx": -7},
      "encoding": {
        "x": {"datum": 100, "type": "quantitative", "scale": {"type": "log", "domain": [5, 2000], "nice": false}, "axis": null},
        "y": {"datum": -4.02, "type": "quantitative", "scale": {"domain": [0, 35], "nice": false, "zero": false}, "axis": null}
      }
    }
  ],
  "resolve": {"axis": {"x": "independent", "y": "independent"}}
}
